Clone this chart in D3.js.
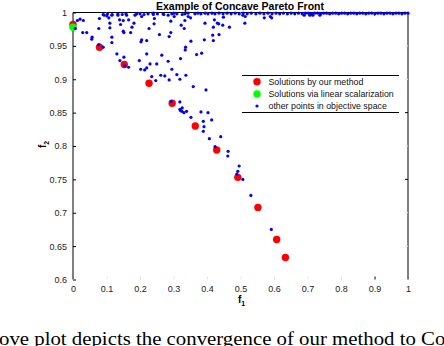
<!DOCTYPE html>
<html>
<head>
<meta charset="utf-8">
<script src="https://cdn.jsdelivr.net/npm/d3@7"></script>
<style>
  body { margin: 0; background: #fff; }
  svg { display: block; }
</style>
</head>
<body>
<div id="chart"></div>
<script>
// solutions found by our method [f1, f2]
const ourMethod = [
  [0.000, 0.982], [0.079, 0.948], [0.153, 0.922], [0.227, 0.894],
  [0.296, 0.864], [0.365, 0.830], [0.429, 0.794], [0.492, 0.753],
  [0.552, 0.708], [0.608, 0.660], [0.634, 0.633]
];

// solutions via linear scalarization
const linearScalarization = [[0.000, 0.978]];

// other points in objective space (scattered)
const otherPoints = [
  [0.013, 0.988], [0.021, 0.990], [0.031, 0.988], [0.007, 0.976], [0.029, 0.970],
  [0.041, 0.970], [0.057, 0.963], [0.056, 0.960], [0.077, 0.952], [0.090, 0.948],
  [0.079, 0.991], [0.077, 0.976], [0.093, 0.996], [0.101, 0.995], [0.107, 0.992],
  [0.116, 0.996], [0.110, 0.984], [0.110, 0.977], [0.116, 0.963], [0.116, 0.955],
  [0.131, 0.938], [0.140, 0.928], [0.152, 0.933], [0.155, 0.920], [0.166, 0.918],
  [0.134, 0.996], [0.139, 0.989], [0.142, 0.982], [0.150, 0.988], [0.160, 0.996],
  [0.166, 0.989], [0.150, 0.972], [0.152, 0.970], [0.172, 0.970], [0.182, 0.984],
  [0.176, 0.978], [0.185, 0.996], [0.200, 0.998], [0.205, 0.994], [0.212, 0.997],
  [0.205, 0.959], [0.203, 0.956], [0.220, 0.958], [0.220, 0.938], [0.198, 0.928],
  [0.202, 0.915], [0.230, 0.923], [0.250, 0.923], [0.235, 0.904], [0.247, 0.898],
  [0.214, 0.914], [0.240, 0.997], [0.243, 0.991], [0.227, 0.976], [0.242, 0.983],
  [0.258, 0.967], [0.262, 0.906], [0.274, 0.905], [0.287, 0.899], [0.265, 0.936],
  [0.284, 0.927], [0.292, 0.970], [0.287, 0.964], [0.271, 0.997], [0.284, 0.996],
  [0.295, 0.998], [0.302, 0.994], [0.292, 0.987], [0.293, 0.867], [0.319, 0.855],
  [0.325, 0.852], [0.331, 0.850], [0.326, 0.857], [0.295, 0.915], [0.310, 0.907],
  [0.319, 0.900], [0.352, 0.843], [0.335, 0.944], [0.336, 0.948], [0.352, 0.957],
  [0.323, 0.981], [0.332, 0.976], [0.326, 0.997], [0.344, 0.994], [0.351, 0.992],
  [0.359, 0.889], [0.369, 0.937], [0.384, 0.939], [0.382, 0.851], [0.403, 0.850],
  [0.389, 0.837], [0.391, 0.829], [0.389, 0.822], [0.397, 0.884], [0.407, 0.811],
  [0.414, 0.839], [0.419, 0.978], [0.417, 0.966], [0.419, 0.958], [0.435, 0.983],
  [0.441, 0.814], [0.334, 0.988], [0.337, 0.906], [0.394, 0.984], [0.422, 0.989],
  [0.431, 0.984], [0.436, 0.967], [0.392, 0.959], [0.467, 0.978], [0.449, 0.993],
  [0.513, 0.984], [0.571, 0.992], [0.593, 0.992], [0.321, 0.931], [0.507, 0.996],
  [0.514, 0.994], [0.589, 0.994], [0.447, 0.981], [0.220, 0.917], [0.319, 0.866],
  [0.321, 0.853], [0.339, 0.852], [0.424, 0.799], [0.463, 0.792], [0.462, 0.785],
  [0.496, 0.770], [0.492, 0.762], [0.489, 0.758], [0.507, 0.750], [0.531, 0.726],
  [0.592, 0.675], [0.690, 0.996], [0.707, 0.996], [0.716, 0.996], [0.737, 0.996]
];

// points piled up along f2 = 1
const topRowPoints = [
  [0.090, 0.997], [0.103, 0.998], [0.117, 0.997], [0.134, 0.998], [0.147, 0.997],
  [0.158, 0.998], [0.190, 0.998], [0.224, 0.998], [0.239, 0.999], [0.252, 0.998],
  [0.269, 0.998], [0.301, 0.999], [0.310, 0.998], [0.334, 0.998], [0.343, 0.999],
  [0.364, 0.998], [0.373, 0.999], [0.382, 0.998], [0.394, 0.999], [0.403, 0.998],
  [0.415, 0.999], [0.424, 0.998], [0.436, 0.999], [0.448, 0.998], [0.460, 0.999],
  [0.472, 0.998], [0.484, 0.999], [0.496, 0.998], [0.508, 0.999], [0.520, 0.998],
  [0.532, 0.999], [0.546, 0.998], [0.558, 0.999], [0.570, 0.998], [0.582, 0.999],
  [0.594, 0.998], [0.606, 0.999], [0.617, 0.998], [0.628, 0.999], [0.640, 0.998],
  [0.651, 0.999], [0.662, 0.998], [0.673, 0.999], [0.684, 0.998], [0.694, 0.999],
  [0.703, 0.999], [0.712, 0.998], [0.721, 0.999], [0.730, 0.999], [0.739, 0.998],
  [0.748, 0.999], [0.757, 0.999], [0.766, 0.998], [0.775, 0.999], [0.784, 0.999],
  [0.793, 0.998], [0.802, 0.999], [0.811, 0.999], [0.820, 0.998], [0.829, 0.999],
  [0.838, 0.999], [0.847, 0.998], [0.856, 0.999], [0.865, 0.999], [0.874, 0.998],
  [0.883, 0.999], [0.892, 0.999], [0.901, 0.998], [0.910, 0.999], [0.919, 0.999],
  [0.928, 0.998], [0.937, 0.999], [0.946, 0.999], [0.955, 0.998], [0.964, 0.999],
  [0.973, 0.999], [0.982, 0.998], [0.991, 0.999], [1.000, 0.999]
];

const xTicks = [0, 0.1, 0.2, 0.3, 0.4, 0.5, 0.6, 0.7, 0.8, 0.9, 1];
const yTicks = [0.6, 0.65, 0.7, 0.75, 0.8, 0.85, 0.9, 0.95, 1];
const legendLabels = [
  "Solutions by our method",
  "Solutions via linear scalarization",
  "other points in objective space"
];
const titleText = "Example of Concave Pareto Front";
const captionText = "ove plot depicts the convergence of our method to Conc";

const W = 444, H = 346;
const margin = { top: 12.5, right: 36, bottom: 66.5, left: 73 };
const sans = "'Liberation Sans', Arial, Helvetica, sans-serif";

const svg = d3.select("#chart")
  .append("svg")
  .attr("width", W)
  .attr("height", H)
  .attr("viewBox", `0 0 ${W} ${H}`);

const x = d3.scaleLinear().domain([0, 1]).range([margin.left, W - margin.right]);
const y = d3.scaleLinear().domain([0.6, 1]).range([H - margin.bottom, margin.top]);

// axes: ticks point inward like MATLAB
const fmt = d => d3.format("")(+d.toFixed(2));

const yAxis = svg.append("g")
  .attr("transform", `translate(${x(0)},0)`)
  .call(d3.axisRight(y).tickValues(yTicks).tickSize(3).tickFormat(fmt));
yAxis.select(".domain").remove();
yAxis.selectAll("text")
  .attr("x", -6)
  .attr("text-anchor", "end")
  .attr("font-family", sans)
  .attr("font-size", 9)
  .attr("fill", "#222");
yAxis.selectAll("line").attr("stroke", "#000");

const xAxis = svg.append("g")
  .attr("transform", `translate(0,${y(0.6)})`)
  .call(d3.axisTop(x).tickValues(xTicks).tickSize(3).tickFormat(fmt));
xAxis.select(".domain").remove();
xAxis.selectAll("text")
  .attr("y", 12.5)
  .attr("dy", "0")
  .attr("font-family", sans)
  .attr("font-size", 9)
  .attr("fill", "#222");
// most of the mirrored ticks fade out in the picture
xAxis.selectAll("line").attr("stroke", d => d === 0.9 ? "#000" : "#e4e4e4");

// frame: left, top and right lines (no bottom line)
const frame = d3.path();
frame.moveTo(x(0), y(0.6));
frame.lineTo(x(0), y(1));
frame.lineTo(x(1), y(1));
frame.lineTo(x(1), y(0.6));
svg.append("path")
  .attr("d", frame.toString())
  .attr("fill", "none")
  .attr("stroke", "#000")
  .attr("stroke-width", 1);

// mirrored ticks on top and right
svg.append("g").selectAll("line")
  .data(xTicks.slice(1, -1))
  .join("line")
  .attr("x1", d => x(d)).attr("x2", d => x(d))
  .attr("y1", y(1)).attr("y2", y(1) + 3)
  .attr("stroke", d => d === 0.9 ? "#000" : "#e4e4e4");
svg.append("g").selectAll("line")
  .data(yTicks.slice(1, -1))
  .join("line")
  .attr("x1", x(1) - 3).attr("x2", x(1))
  .attr("y1", d => y(d)).attr("y2", d => y(d))
  .attr("stroke", d => (d === 0.75 || d === 0.85) ? "#000" : "#e4e4e4");

// marks
const plot = svg.append("g");
plot.selectAll(".ours")
  .data(ourMethod)
  .join("circle")
  .attr("class", "ours")
  .attr("cx", d => x(d[0]))
  .attr("cy", d => y(d[1]))
  .attr("r", 3.7)
  .attr("fill", "#ff0000");

plot.selectAll(".linear")
  .data(linearScalarization)
  .join("circle")
  .attr("class", "linear")
  .attr("cx", d => x(d[0]))
  .attr("cy", d => y(d[1]))
  .attr("r", 3.7)
  .attr("fill", "#00ff00");

plot.selectAll(".other")
  .data(otherPoints.concat(topRowPoints))
  .join("circle")
  .attr("class", "other")
  .attr("cx", d => x(d[0]))
  .attr("cy", d => y(d[1]))
  .attr("r", 1.6)
  .attr("fill", "#0000ff");

// title and axis labels
svg.append("text")
  .attr("x", 240)
  .attr("y", 9.5)
  .attr("text-anchor", "middle")
  .attr("font-family", sans)
  .attr("font-weight", "bold")
  .attr("font-size", 10.5)
  .text(titleText);

const xl = svg.append("text")
  .attr("x", 238)
  .attr("y", 303)
  .attr("font-family", sans)
  .attr("font-weight", "bold")
  .attr("font-size", 10);
xl.append("tspan").text("f");
xl.append("tspan").attr("dy", 3).attr("font-size", 7).text("1");

const yl = svg.append("text")
  .attr("transform", "translate(46,148) rotate(-90)")
  .attr("font-family", sans)
  .attr("font-weight", "bold")
  .attr("font-size", 10);
yl.append("tspan").text("f");
yl.append("tspan").attr("dy", 3).attr("font-size", 7).text("2");

// legend
const legend = svg.append("g");
const lgX0 = 242, lgX1 = 399, lgTop = 75.5, lgBottom = 112.5;
legend.selectAll(".rule")
  .data([lgTop, lgBottom])
  .join("line")
  .attr("class", "rule")
  .attr("x1", lgX0).attr("x2", lgX1)
  .attr("y1", d => d).attr("y2", d => d)
  .attr("stroke", "#000");

const legendColors = ["#ff0000", "#00ff00", "#0000ff"];
const legendRadius = [3.7, 3.7, 1.6];
const rowY = [81.8, 94, 106];
const items = legend.selectAll(".item")
  .data(legendLabels)
  .join("g")
  .attr("class", "item")
  .attr("transform", (d, i) => `translate(0,${rowY[i]})`);
items.append("circle")
  .attr("cx", 257)
  .attr("r", (d, i) => legendRadius[i])
  .attr("fill", (d, i) => legendColors[i]);
items.append("text")
  .attr("x", 268.5)
  .attr("y", 3)
  .attr("font-family", sans)
  .attr("font-size", 8.8)
  .attr("fill", "#111")
  .text(d => d);

// caption fragment under the figure (runs off the right edge, as in the source)
svg.append("text")
  .attr("x", -1)
  .attr("y", 345)
  .attr("font-family", "'Liberation Serif', 'Times New Roman', serif")
  .attr("font-size", 18)
  .attr("textLength", 466)
  .attr("lengthAdjust", "spacingAndGlyphs")
  .attr("fill", "#000")
  .text(captionText);
</script>
</body>
</html>
